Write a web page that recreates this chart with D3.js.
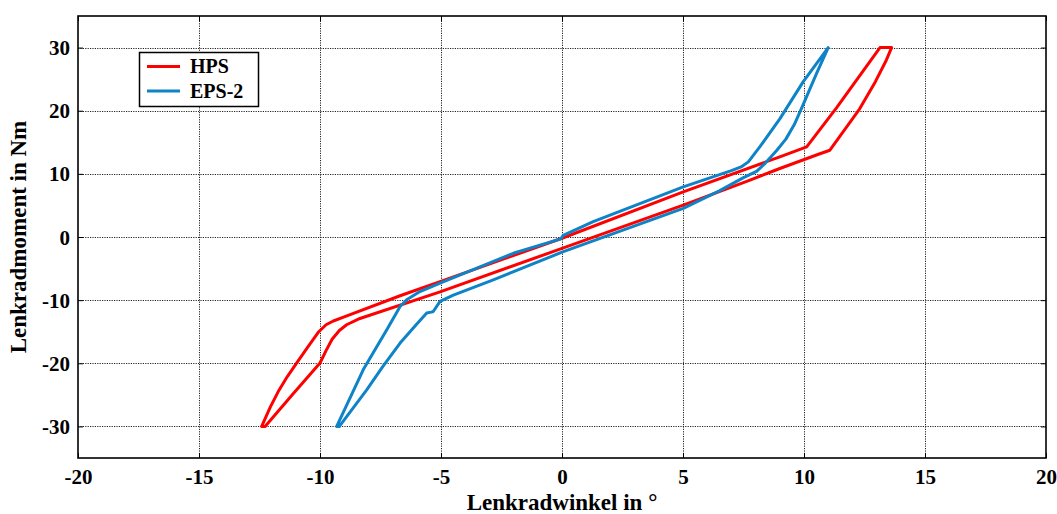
<!DOCTYPE html>
<html>
<head>
<meta charset="utf-8">
<script src="https://cdn.jsdelivr.net/npm/d3@7"></script>
<style>
  html, body { margin: 0; padding: 0; background: #fff; }
  svg text { font-family: "Liberation Serif", "Times New Roman", serif; font-weight: bold; fill: #000; }
</style>
</head>
<body>
<svg id="chart" width="1057" height="514"></svg>
<script>
// Steering-wheel angle (deg) vs. steering torque (Nm), hysteresis loops
const xTicks = [-20, -15, -10, -5, 0, 5, 10, 15, 20];
const yTicks = [-30, -20, -10, 0, 10, 20, 30];

const seriesNames = ["HPS", "EPS-2"];
const seriesColors = ["#ff0000", "#0e83c8"];

// HPS loop: rising branch, then falling branch back to the start
const hpsAngle = [-12.27, -11.1, -10.0, -9.75, -9.5, -9.2, -8.9, -8.35, -5.04, 0.0, 5.01, 7.77, 9.0, 10.6, 11.07, 12.3, 12.95, 13.4, 13.62,
                  13.14, 11.35, 10.11, 9.0, 5.01, 0.0, -5.04, -6.69, -9.0, -9.45, -9.75, -10.05, -10.5, -10.96, -11.35, -11.7, -12.05, -12.41, -12.27];
const hpsTorque = [-30, -24.8, -19.95, -18.0, -16.2, -14.8, -13.9, -12.9, -8.7, -1.8, 5.05, 9.0, 10.85, 13.1, 13.74, 20.3, 24.6, 28.0, 30,
                   30, 20.5, 14.26, 12.7, 7.16, -0.2, -7.06, -9.3, -12.65, -13.3, -13.9, -15.0, -17.4, -19.95, -22.1, -24.3, -26.9, -30, -30];

// EPS-2 loop: rising branch, then falling branch back to the start
const eps2Angle = [-9.2, -8.07, -7.4, -6.69, -6.1, -5.59, -5.4, -5.32, -5.04, -4.49, -2.84, 0.0, 5.01, 6.5, 7.5, 8.04, 8.35, 8.87, 9.25, 9.6, 9.97, 10.52, 11.0,
                   9.97, 9.0, 8.18, 7.7, 7.4, 7.0, 5.01, 1.29, 0.05, -0.05, -2.01, -5.04, -5.87, -6.42, -6.69, -7.24, -8.21, -9.31, -9.2];
const eps2Torque = [-30, -24.2, -20.5, -16.8, -14.2, -12.05, -11.9, -11.8, -10.2, -9.2, -6.8, -2.4, 4.53, 7.3, 9.4, 10.4, 11.5, 13.7, 15.5, 17.8, 21.0, 25.9, 30,
                    24.6, 18.7, 14.3, 11.9, 11.1, 10.5, 7.95, 2.42, 0.25, -0.3, -2.58, -7.3, -8.64, -9.95, -11.0, -14.7, -21.0, -30, -30];

const svg = d3.select("#chart");
const W = 1057, H = 514;
const margin = { left: 78, right: W - 1046, top: 16, bottom: H - 458 };
const xs = d3.scaleLinear().domain([-20, 20]).range([margin.left, W - margin.right]);
const ys = d3.scaleLinear().domain([-35, 35]).range([H - margin.bottom, margin.top]);

const g = svg.append("g");

// dotted grid
const grid = g.append("g").attr("stroke", "#222").attr("stroke-width", 1).attr("stroke-dasharray", "1.2,1.2");
grid.selectAll("line.vx").data(xTicks.slice(1, -1)).join("line")
  .attr("x1", d => Math.round(xs(d)) + 0.5).attr("x2", d => Math.round(xs(d)) + 0.5)
  .attr("y1", ys(35)).attr("y2", ys(-35));
grid.selectAll("line.hy").data(yTicks).join("line")
  .attr("y1", d => Math.round(ys(d)) + 0.5).attr("y2", d => Math.round(ys(d)) + 0.5)
  .attr("x1", xs(-20)).attr("x2", xs(20));

// axes with inward ticks
const fmt = d => String(d);
const xAxis = d3.axisBottom(xs).tickValues(xTicks).tickSize(-5).tickPadding(11).tickFormat(fmt);
const yAxis = d3.axisLeft(ys).tickValues(yTicks).tickSize(-5).tickPadding(8).tickFormat(fmt);

const gx = g.append("g").attr("transform", `translate(0,${ys(-35)})`).call(xAxis);
const gy = g.append("g").attr("transform", `translate(${xs(-20)},0)`).call(yAxis);
[gx, gy].forEach(a => {
  a.attr("font-family", null).attr("font-size", null);
  a.select(".domain").remove();
  a.selectAll("line").attr("stroke", "#000").attr("stroke-width", 1);
  a.selectAll("text")
    .style("font-family", "'Liberation Serif', serif")
    .style("font-weight", "bold")
    .style("font-size", "21px");
});
gx.selectAll("text").attr("dy", "0.71em");
gy.selectAll("text").attr("dy", "0.34em");
// matching ticks on the top and right edges
g.append("g").attr("transform", `translate(0,${ys(35)})`)
  .call(d3.axisTop(xs).tickValues(xTicks).tickSize(-5).tickFormat(""))
  .call(a => { a.select(".domain").remove(); a.selectAll("line").attr("stroke", "#000"); });
g.append("g").attr("transform", `translate(${xs(20)},0)`)
  .call(d3.axisRight(ys).tickValues(yTicks).tickSize(-5).tickFormat(""))
  .call(a => { a.select(".domain").remove(); a.selectAll("line").attr("stroke", "#000"); });

// loops
const line = d3.line().x(d => xs(d[0])).y(d => ys(d[1]));
const curves = [
  d3.zip(hpsAngle, hpsTorque),
  d3.zip(eps2Angle, eps2Torque)
];
g.append("g").selectAll("path").data(curves).join("path")
  .attr("d", d => line(d))
  .attr("fill", "none")
  .attr("stroke", (d, i) => seriesColors[i])
  .attr("stroke-width", 3)
  .attr("stroke-linejoin", "round")
  .attr("stroke-linecap", "round");

// frame
g.append("rect")
  .attr("x", xs(-20)).attr("y", ys(35))
  .attr("width", xs(20) - xs(-20)).attr("height", ys(-35) - ys(35))
  .attr("fill", "none").attr("stroke", "#000").attr("stroke-width", 1.6);

// axis titles
svg.append("text")
  .attr("x", xs(0)).attr("y", 510)
  .attr("text-anchor", "middle").attr("font-size", 23)
  .text("Lenkradwinkel in °");
svg.append("text")
  .attr("transform", `translate(26,${(ys(35) + ys(-35)) / 2}) rotate(-90)`)
  .attr("text-anchor", "middle").attr("font-size", 23)
  .text("Lenkradmoment in Nm");

// legend
const lg = svg.append("g");
lg.append("rect").attr("x", 139.5).attr("y", 52.5).attr("width", 119).attr("height", 54)
  .attr("fill", "#fff").attr("stroke", "#000").attr("stroke-width", 1.5);
seriesNames.forEach((name, i) => {
  const yy = 66.5 + i * 24.5;
  lg.append("line").attr("x1", 147).attr("x2", 180).attr("y1", yy).attr("y2", yy)
    .attr("stroke", seriesColors[i]).attr("stroke-width", 3);
  lg.append("text").attr("x", 190).attr("y", yy + 6.5).attr("font-size", 20).text(name);
});
</script>
</body>
</html>
